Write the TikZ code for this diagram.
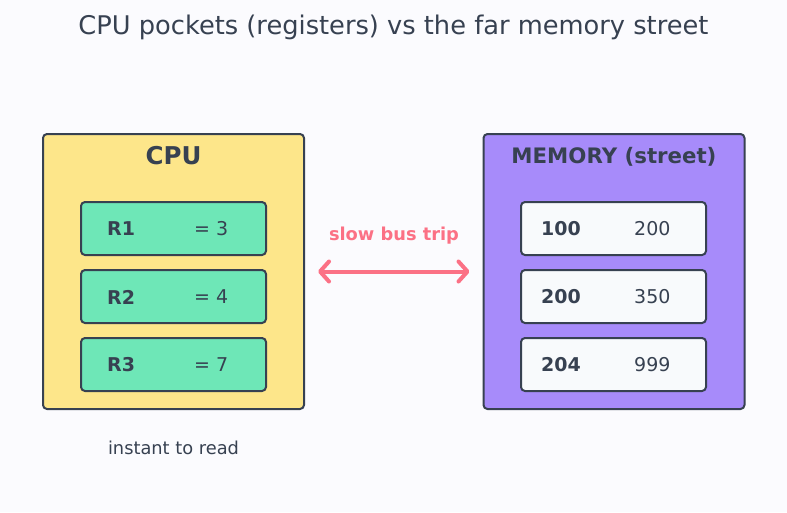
\documentclass[tikz,border=0pt]{standalone}
\usepackage{fontspec}
\setmainfont{DejaVu Sans}
\usetikzlibrary{arrows.meta}
\definecolor{bgcol}{HTML}{FBFBFE}
\definecolor{ink}{HTML}{374151}
\definecolor{cpufill}{HTML}{FDE68A}
\definecolor{memfill}{HTML}{A78BFA}
\definecolor{regfill}{HTML}{6EE7B7}
\definecolor{cellfill}{HTML}{F8FAFC}
\definecolor{buscol}{HTML}{FB7185}
\tikzset{
  bigbox/.style={draw=ink,line width=2pt,rounded corners=4pt,minimum width=261pt,minimum height=275pt,inner sep=0pt},
  slot/.style={draw=ink,line width=2pt,rounded corners=4pt,minimum width=185pt,minimum height=53pt,inner sep=0pt},
  lbl/.style={text=ink,inner sep=0pt}
}
\begin{document}
\begin{tikzpicture}[x=1pt,y=-1pt]
			\fill[bgcol] (0,0) rectangle (787,512);
			\node[lbl,font=\fontsize{25.7}{30}\selectfont] (title) at (393.5,27) {CPU pockets (registers) vs the far memory street};
			
			\node[bigbox,fill=cpufill] (cpu) at (173.5,271.5) {};
			\node[bigbox,fill=memfill] (mem) at (614,271.5) {};
			\node[lbl,font=\fontsize{24.5}{29}\selectfont\bfseries] (cputitle) at (173.5,156) {CPU};
			\node[lbl,font=\fontsize{21.3}{25}\selectfont\bfseries] (memtitle) at (614,157) {MEMORY (street)};
			
			\foreach \i/\v/\y in {1/3/229,2/4/297,3/7/365}{
				\node[slot,fill=regfill] (r\i) at (173.5,\y-0.5) {};
				\node[lbl,anchor=west,font=\fontsize{19}{22}\selectfont\bfseries] (rn\i) at (107,\y) {R\i};
				\node[lbl,anchor=west,font=\fontsize{19}{22}\selectfont] (rv\i) at (194,\y) {= \v};}
			\foreach \i/\a/\v/\y in {1/100/200/229,2/200/350/297,3/204/999/365}{
				\node[slot,fill=cellfill] (c\i) at (613.5,\y-0.5) {};
				\node[lbl,anchor=west,font=\fontsize{19}{22}\selectfont\bfseries] (ca\i) at (541,\y) {\a};
				\node[lbl,anchor=west,font=\fontsize{19}{22}\selectfont] (cv\i) at (634,\y) {\v};}
			
			\draw[buscol,line width=4pt,line cap=round,{Straight Barb[round,length=9pt,width=20pt]}-{Straight Barb[round,length=9pt,width=20pt]},shorten <=13pt,shorten >=13pt] (cpu) -- (mem);%bus
			\node[lbl,text=buscol,font=\fontsize{17.8}{21}\selectfont\bfseries] (bus) at (394,235.5) {slow bus trip};
			\node[lbl,font=\fontsize{17.8}{21}\selectfont] (instant) at (173.5,448) {instant to read};
			
		\end{tikzpicture}
\end{document}
